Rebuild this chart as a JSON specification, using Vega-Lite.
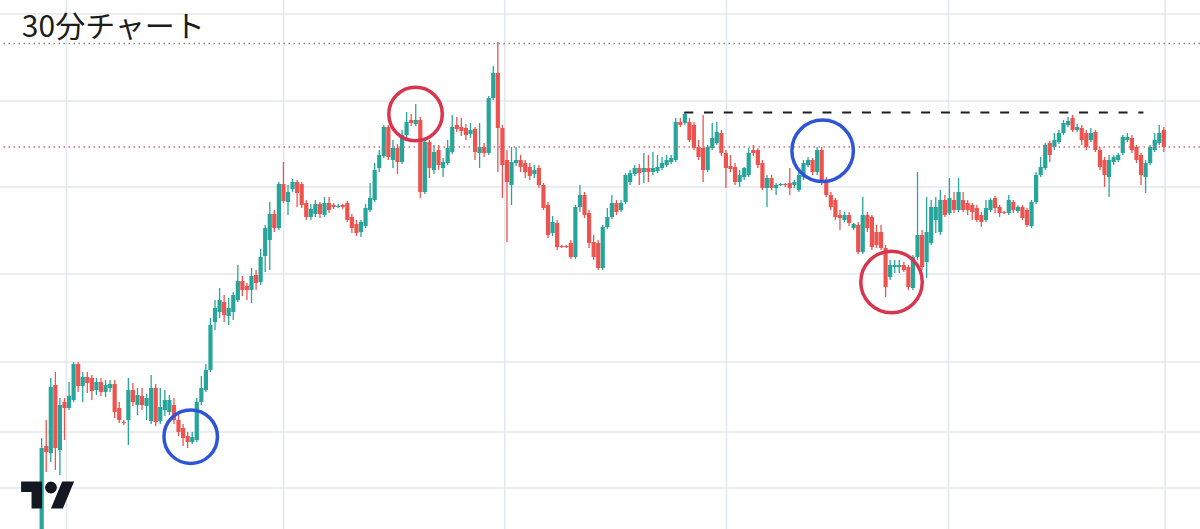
{
  "$schema": "https://vega.github.io/schema/vega-lite/v6.json",
  "width": 1200,
  "height": 529,
  "autosize": "none",
  "padding": 0,
  "background": "#ffffff",
  "config": {"view": {"stroke": null}},
  "datasets": {
    "candles": [
      {"t":0,"o":-16,"h":91,"l":-21,"c":81},{"t":1,"o":83,"h":109,"l":57,"c":77},{"t":2,"o":76,"h":151,"l":67,"c":142},{"t":3,"o":144,"h":157,"l":59,"c":81},{"t":4,"o":79,"h":131,"l":54,"c":124},{"t":5,"o":127,"h":131,"l":89,"c":121},{"t":6,"o":121,"h":147,"l":119,"c":133},{"t":7,"o":129,"h":167,"l":127,"c":165},{"t":8,"o":165,"h":167,"l":137,"c":143},{"t":9,"o":143,"h":157,"l":127,"c":152},
      {"t":10,"o":152,"h":157,"l":136,"c":146},{"t":11,"o":151,"h":154,"l":129,"c":138},{"t":12,"o":139,"h":151,"l":134,"c":147},{"t":13,"o":147,"h":151,"l":133,"c":137},{"t":14,"o":137,"h":149,"l":132,"c":144},{"t":15,"o":141,"h":149,"l":137,"c":145},{"t":16,"o":145,"h":149,"l":111,"c":117},{"t":17,"o":121,"h":127,"l":106,"c":109},{"t":18,"o":107,"h":109,"l":104,"c":106},{"t":19,"o":109,"h":151,"l":84,"c":139},
      {"t":20,"o":139,"h":146,"l":123,"c":127},{"t":21,"o":124,"h":141,"l":114,"c":134},{"t":22,"o":133,"h":141,"l":119,"c":124},{"t":23,"o":123,"h":135,"l":109,"c":131},{"t":24,"o":108,"h":154,"l":105,"c":141},{"t":25,"o":141,"h":145,"l":103,"c":107},{"t":26,"o":108,"h":141,"l":105,"c":122},{"t":27,"o":119,"h":139,"l":113,"c":129},{"t":28,"o":117,"h":134,"l":114,"c":129},{"t":29,"o":124,"h":131,"l":105,"c":109},
      {"t":30,"o":109,"h":114,"l":93,"c":97},{"t":31,"o":101,"h":105,"l":83,"c":91},{"t":32,"o":93,"h":97,"l":81,"c":87},{"t":33,"o":87,"h":97,"l":85,"c":92},{"t":34,"o":89,"h":131,"l":87,"c":127},{"t":35,"o":127,"h":153,"l":124,"c":141},{"t":36,"o":139,"h":165,"l":137,"c":159},{"t":37,"o":159,"h":211,"l":157,"c":204},{"t":38,"o":207,"h":229,"l":199,"c":221},{"t":39,"o":217,"h":241,"l":211,"c":229},
      {"t":40,"o":227,"h":234,"l":207,"c":214},{"t":41,"o":213,"h":231,"l":204,"c":221},{"t":42,"o":217,"h":237,"l":209,"c":234},{"t":43,"o":229,"h":264,"l":227,"c":248},{"t":44,"o":248,"h":253,"l":233,"c":239},{"t":45,"o":243,"h":246,"l":229,"c":239},{"t":46,"o":239,"h":261,"l":226,"c":253},{"t":47,"o":254,"h":259,"l":239,"c":246},{"t":48,"o":247,"h":280,"l":244,"c":272},{"t":49,"o":273,"h":304,"l":257,"c":301},
      {"t":50,"o":289,"h":327,"l":259,"c":315},{"t":51,"o":315,"h":319,"l":297,"c":301},{"t":52,"o":301,"h":347,"l":299,"c":345},{"t":53,"o":345,"h":367,"l":326,"c":328},{"t":54,"o":327,"h":344,"l":314,"c":337},{"t":55,"o":340,"h":350,"l":337,"c":347},{"t":56,"o":347,"h":349,"l":322,"c":336},{"t":57,"o":345,"h":347,"l":321,"c":324},{"t":58,"o":326,"h":329,"l":309,"c":312},{"t":59,"o":312,"h":325,"l":309,"c":320},
      {"t":60,"o":315,"h":329,"l":312,"c":325},{"t":61,"o":325,"h":327,"l":311,"c":315},{"t":62,"o":314,"h":332,"l":312,"c":326},{"t":63,"o":326,"h":332,"l":316,"c":319},{"t":64,"o":324,"h":326,"l":320,"c":322},{"t":65,"o":322,"h":325,"l":321,"c":323},{"t":66,"o":324,"h":325,"l":320,"c":322},{"t":67,"o":326,"h":328,"l":307,"c":309},{"t":68,"o":312,"h":315,"l":296,"c":301},{"t":69,"o":305,"h":309,"l":293,"c":296},
      {"t":70,"o":297,"h":309,"l":292,"c":307},{"t":71,"o":303,"h":325,"l":301,"c":321},{"t":72,"o":319,"h":346,"l":317,"c":331},{"t":73,"o":329,"h":366,"l":327,"c":359},{"t":74,"o":361,"h":379,"l":357,"c":374},{"t":75,"o":373,"h":404,"l":371,"c":402},{"t":76,"o":402,"h":404,"l":369,"c":372},{"t":77,"o":369,"h":389,"l":361,"c":381},{"t":78,"o":381,"h":385,"l":355,"c":367},{"t":79,"o":367,"h":399,"l":365,"c":394},
      {"t":80,"o":394,"h":417,"l":391,"c":407},{"t":81,"o":409,"h":415,"l":403,"c":406},{"t":82,"o":405,"h":425,"l":403,"c":409},{"t":83,"o":409,"h":412,"l":331,"c":337},{"t":84,"o":337,"h":391,"l":335,"c":387},{"t":85,"o":387,"h":389,"l":351,"c":361},{"t":86,"o":359,"h":384,"l":355,"c":377},{"t":87,"o":379,"h":384,"l":359,"c":364},{"t":88,"o":361,"h":371,"l":352,"c":367},{"t":89,"o":366,"h":389,"l":364,"c":381},
      {"t":90,"o":377,"h":414,"l":375,"c":402},{"t":91,"o":404,"h":412,"l":397,"c":400},{"t":92,"o":402,"h":411,"l":393,"c":398},{"t":93,"o":401,"h":405,"l":389,"c":394},{"t":94,"o":395,"h":406,"l":391,"c":399},{"t":95,"o":400,"h":402,"l":369,"c":377},{"t":96,"o":376,"h":406,"l":361,"c":382},{"t":97,"o":382,"h":386,"l":372,"c":376},{"t":98,"o":376,"h":433,"l":374,"c":431},{"t":99,"o":431,"h":463,"l":429,"c":456},
      {"t":100,"o":456,"h":487,"l":357,"c":401},{"t":101,"o":401,"h":404,"l":331,"c":364},{"t":102,"o":369,"h":379,"l":287,"c":347},{"t":103,"o":344,"h":382,"l":324,"c":367},{"t":104,"o":366,"h":382,"l":363,"c":369},{"t":105,"o":369,"h":374,"l":357,"c":362},{"t":106,"o":366,"h":369,"l":351,"c":357},{"t":107,"o":362,"h":366,"l":349,"c":353},{"t":108,"o":355,"h":364,"l":351,"c":359},{"t":109,"o":361,"h":364,"l":341,"c":344},
      {"t":110,"o":344,"h":346,"l":319,"c":321},{"t":111,"o":324,"h":327,"l":291,"c":294},{"t":112,"o":296,"h":313,"l":293,"c":307},{"t":113,"o":306,"h":309,"l":279,"c":282},{"t":114,"o":283,"h":284,"l":281,"c":282},{"t":115,"o":283,"h":284,"l":281,"c":282},{"t":116,"o":286,"h":289,"l":270,"c":272},{"t":117,"o":272,"h":324,"l":270,"c":322},{"t":118,"o":322,"h":344,"l":317,"c":334},{"t":119,"o":334,"h":337,"l":311,"c":314},
      {"t":120,"o":316,"h":319,"l":281,"c":286},{"t":121,"o":287,"h":294,"l":269,"c":272},{"t":122,"o":286,"h":289,"l":259,"c":261},{"t":123,"o":261,"h":304,"l":259,"c":302},{"t":124,"o":302,"h":321,"l":300,"c":312},{"t":125,"o":312,"h":334,"l":310,"c":326},{"t":126,"o":326,"h":329,"l":314,"c":317},{"t":127,"o":319,"h":329,"l":317,"c":326},{"t":128,"o":327,"h":356,"l":325,"c":354},{"t":129,"o":347,"h":359,"l":344,"c":356},
      {"t":130,"o":355,"h":364,"l":353,"c":361},{"t":131,"o":361,"h":365,"l":344,"c":356},{"t":132,"o":357,"h":376,"l":346,"c":361},{"t":133,"o":361,"h":374,"l":347,"c":357},{"t":134,"o":357,"h":377,"l":354,"c":361},{"t":135,"o":358,"h":374,"l":356,"c":362},{"t":136,"o":361,"h":372,"l":359,"c":366},{"t":137,"o":364,"h":374,"l":362,"c":369},{"t":138,"o":367,"h":374,"l":365,"c":371},{"t":139,"o":369,"h":411,"l":367,"c":407},
      {"t":140,"o":407,"h":411,"l":402,"c":404},{"t":141,"o":406,"h":417,"l":404,"c":415},{"t":142,"o":407,"h":411,"l":387,"c":389},{"t":143,"o":404,"h":407,"l":379,"c":381},{"t":144,"o":382,"h":389,"l":369,"c":372},{"t":145,"o":381,"h":414,"l":347,"c":359},{"t":146,"o":359,"h":384,"l":357,"c":382},{"t":147,"o":381,"h":406,"l":379,"c":391},{"t":148,"o":386,"h":407,"l":384,"c":397},{"t":149,"o":396,"h":399,"l":373,"c":376},
      {"t":150,"o":376,"h":379,"l":341,"c":361},{"t":151,"o":363,"h":374,"l":357,"c":360},{"t":152,"o":362,"h":366,"l":344,"c":347},{"t":153,"o":347,"h":359,"l":342,"c":354},{"t":154,"o":352,"h":362,"l":349,"c":361},{"t":155,"o":354,"h":381,"l":352,"c":376},{"t":156,"o":379,"h":384,"l":373,"c":376},{"t":157,"o":379,"h":381,"l":361,"c":364},{"t":158,"o":366,"h":369,"l":339,"c":341},{"t":159,"o":341,"h":354,"l":322,"c":351},
      {"t":160,"o":351,"h":354,"l":339,"c":341},{"t":161,"o":341,"h":346,"l":334,"c":344},{"t":162,"o":344,"h":346,"l":343,"c":345},{"t":163,"o":345,"h":346,"l":342,"c":344},{"t":164,"o":346,"h":361,"l":334,"c":341},{"t":165,"o":344,"h":349,"l":341,"c":347},{"t":166,"o":339,"h":357,"l":337,"c":354},{"t":167,"o":352,"h":369,"l":349,"c":366},{"t":168,"o":364,"h":372,"l":362,"c":369},{"t":169,"o":369,"h":371,"l":354,"c":357},
      {"t":170,"o":357,"h":382,"l":354,"c":379},{"t":171,"o":379,"h":382,"l":344,"c":349},{"t":172,"o":349,"h":352,"l":332,"c":334},{"t":173,"o":334,"h":337,"l":319,"c":322},{"t":174,"o":329,"h":331,"l":309,"c":312},{"t":175,"o":314,"h":319,"l":299,"c":311},{"t":176,"o":309,"h":317,"l":307,"c":314},{"t":177,"o":314,"h":317,"l":303,"c":306},{"t":178,"o":301,"h":306,"l":299,"c":305},{"t":179,"o":304,"h":307,"l":275,"c":277},
      {"t":180,"o":277,"h":332,"l":275,"c":314},{"t":181,"o":314,"h":317,"l":297,"c":301},{"t":182,"o":312,"h":314,"l":279,"c":282},{"t":183,"o":297,"h":304,"l":281,"c":284},{"t":184,"o":297,"h":304,"l":279,"c":281},{"t":185,"o":281,"h":284,"l":232,"c":242},{"t":186,"o":252,"h":269,"l":249,"c":264},{"t":187,"o":262,"h":269,"l":256,"c":264},{"t":188,"o":262,"h":269,"l":256,"c":264},{"t":189,"o":264,"h":267,"l":257,"c":259},
      {"t":190,"o":262,"h":264,"l":239,"c":242},{"t":191,"o":241,"h":274,"l":239,"c":272},{"t":192,"o":272,"h":357,"l":269,"c":294},{"t":193,"o":294,"h":299,"l":259,"c":262},{"t":194,"o":267,"h":332,"l":251,"c":297},{"t":195,"o":286,"h":329,"l":284,"c":322},{"t":196,"o":309,"h":332,"l":296,"c":322},{"t":197,"o":297,"h":339,"l":294,"c":329},{"t":198,"o":329,"h":334,"l":312,"c":314},{"t":199,"o":316,"h":351,"l":314,"c":331},
      {"t":200,"o":329,"h":337,"l":316,"c":319},{"t":201,"o":319,"h":351,"l":317,"c":337},{"t":202,"o":329,"h":337,"l":317,"c":319},{"t":203,"o":326,"h":329,"l":314,"c":319},{"t":204,"o":324,"h":326,"l":309,"c":317},{"t":205,"o":321,"h":324,"l":307,"c":309},{"t":206,"o":314,"h":317,"l":302,"c":307},{"t":207,"o":309,"h":329,"l":307,"c":321},{"t":208,"o":319,"h":331,"l":317,"c":329},{"t":209,"o":331,"h":333,"l":316,"c":321},
      {"t":210,"o":322,"h":324,"l":312,"c":316},{"t":211,"o":317,"h":318,"l":315,"c":316},{"t":212,"o":316,"h":334,"l":314,"c":329},{"t":213,"o":327,"h":329,"l":316,"c":319},{"t":214,"o":318,"h":324,"l":316,"c":322},{"t":215,"o":322,"h":324,"l":309,"c":311},{"t":216,"o":319,"h":321,"l":302,"c":304},{"t":217,"o":303,"h":329,"l":301,"c":327},{"t":218,"o":327,"h":357,"l":325,"c":354},{"t":219,"o":354,"h":372,"l":352,"c":362},
      {"t":220,"o":361,"h":386,"l":359,"c":384},{"t":221,"o":386,"h":388,"l":367,"c":374},{"t":222,"o":382,"h":396,"l":379,"c":389},{"t":223,"o":387,"h":399,"l":385,"c":396},{"t":224,"o":396,"h":409,"l":394,"c":406},{"t":225,"o":404,"h":412,"l":402,"c":408},{"t":226,"o":411,"h":414,"l":397,"c":399},{"t":227,"o":399,"h":405,"l":397,"c":402},{"t":228,"o":401,"h":404,"l":384,"c":389},{"t":229,"o":396,"h":399,"l":379,"c":382},
      {"t":230,"o":389,"h":401,"l":387,"c":396},{"t":231,"o":397,"h":399,"l":377,"c":379},{"t":232,"o":379,"h":382,"l":359,"c":362},{"t":233,"o":369,"h":372,"l":342,"c":354},{"t":234,"o":352,"h":374,"l":332,"c":369},{"t":235,"o":367,"h":374,"l":364,"c":372},{"t":236,"o":369,"h":376,"l":367,"c":374},{"t":237,"o":376,"h":394,"l":374,"c":392},{"t":238,"o":389,"h":396,"l":387,"c":392},{"t":239,"o":391,"h":394,"l":376,"c":379},
      {"t":240,"o":382,"h":384,"l":366,"c":369},{"t":241,"o":374,"h":376,"l":344,"c":354},{"t":242,"o":352,"h":369,"l":336,"c":366},{"t":243,"o":366,"h":384,"l":364,"c":382},{"t":244,"o":379,"h":396,"l":377,"c":389},{"t":245,"o":386,"h":404,"l":384,"c":396},{"t":246,"o":399,"h":402,"l":377,"c":382}
    ],
    "marks": [
      {"t":32.67,"v":92.3,"kind":"blue","group":"first"},
      {"t":81.96,"v":415,"kind":"red","group":"first"},
      {"t":171.2,"v":378.2,"kind":"blue","group":"second"},
      {"t":186.3,"v":247,"kind":"red","group":"second"}
    ],
    "gridX": [{"g":5.435},{"g":53.04},{"g":101.52},{"g":150.11},{"g":198.8},{"g":246.3}],
    "gridY": [{"g":515},{"g":428},{"g":342},{"g":255},{"g":167},{"g":97},{"g":41}]
  },
  "layer": [
    {
      "data": {"name": "gridX"},
      "mark": {"type": "rule", "color": "#e3e7ee", "strokeWidth": 1.6},
      "encoding": {
        "x": {"field": "g", "type": "quantitative", "scale": {"domain": [-8.04, 252.83], "nice": false, "zero": false}, "axis": null}
      }
    },
    {
      "data": {"name": "gridY"},
      "mark": {"type": "rule", "color": "#e3e7ee", "strokeWidth": 1.6},
      "encoding": {
        "y": {"field": "g", "type": "quantitative", "scale": {"domain": [0, 529], "nice": false, "zero": false}, "axis": null}
      }
    },
    {
      "data": {"name": "candles"},
      "mark": {"type": "rule", "strokeWidth": 1.3},
      "encoding": {
        "x": {"field": "t", "type": "quantitative", "scale": {"domain": [-8.04, 252.83], "nice": false, "zero": false}, "axis": null},
        "y": {"field": "l", "type": "quantitative", "scale": {"domain": [0, 529], "nice": false, "zero": false}, "axis": null},
        "y2": {"field": "h"},
        "color": {"condition": {"test": "datum.c >= datum.o", "value": "#26a69a"}, "value": "#ef5350"}
      }
    },
    {
      "data": {"name": "candles"},
      "mark": {"type": "bar", "width": 4.2},
      "encoding": {
        "x": {"field": "t", "type": "quantitative", "scale": {"domain": [-8.04, 252.83], "nice": false, "zero": false}, "axis": null},
        "y": {"field": "o", "type": "quantitative", "scale": {"domain": [0, 529], "nice": false, "zero": false}, "axis": null},
        "y2": {"field": "c"},
        "color": {"condition": {"test": "datum.c >= datum.o", "value": "#26a69a"}, "value": "#ef5350"}
      }
    },
    {
      "data": {"values": [{}]},
      "mark": {"type": "rule", "color": "#8a8a8a", "strokeWidth": 1.5, "strokeDash": [1.5, 3.5]},
      "encoding": {"y": {"datum": 485.5, "type": "quantitative", "scale": {"domain": [0, 529], "nice": false, "zero": false}, "axis": null}}
    },
    {
      "data": {"values": [{}]},
      "mark": {"type": "rule", "color": "#d9686c", "strokeWidth": 1.5, "strokeDash": [1.5, 3.5]},
      "encoding": {"y": {"datum": 382, "type": "quantitative", "scale": {"domain": [0, 529], "nice": false, "zero": false}, "axis": null}}
    },
    {
      "data": {"values": [{}]},
      "mark": {"type": "rule", "color": "#1e1e1e", "strokeWidth": 2.2, "strokeDash": [9, 10.74]},
      "encoding": {
        "x": {"datum": 140.87, "type": "quantitative", "scale": {"domain": [-8.04, 252.83], "nice": false, "zero": false}, "axis": null},
        "x2": {"datum": 241.52},
        "y": {"datum": 416.5, "type": "quantitative", "scale": {"domain": [0, 529], "nice": false, "zero": false}, "axis": null}
      }
    },
    {
      "data": {"name": "marks"},
      "transform": [{"filter": "datum.group === 'first'"}],
      "mark": {"type": "point", "shape": "circle", "filled": false, "strokeWidth": 3.5, "size": 2862, "opacity": 1},
      "encoding": {
        "x": {"field": "t", "type": "quantitative", "scale": {"domain": [-8.04, 252.83], "nice": false, "zero": false}, "axis": null},
        "y": {"field": "v", "type": "quantitative", "scale": {"domain": [0, 529], "nice": false, "zero": false}, "axis": null},
        "color": {"field": "kind", "type": "nominal", "scale": {"domain": ["blue", "red"], "range": ["#2e55d6", "#d8354e"]}, "legend": null}
      }
    },
    {
      "data": {"name": "marks"},
      "transform": [{"filter": "datum.group === 'second'"}],
      "mark": {"type": "point", "shape": "circle", "filled": false, "strokeWidth": 3.5, "size": 3782, "opacity": 1},
      "encoding": {
        "x": {"field": "t", "type": "quantitative", "scale": {"domain": [-8.04, 252.83], "nice": false, "zero": false}, "axis": null},
        "y": {"field": "v", "type": "quantitative", "scale": {"domain": [0, 529], "nice": false, "zero": false}, "axis": null},
        "color": {"field": "kind", "type": "nominal", "scale": {"domain": ["blue", "red"], "range": ["#2e55d6", "#d8354e"]}, "legend": null}
      }
    },
    {
      "data": {"values": [{}]},
      "mark": {"type": "text", "text": "30分チャート", "font": "Noto Sans CJK JP", "fontSize": 30, "align": "left", "baseline": "alphabetic", "color": "#1c1c1c"},
      "encoding": {
        "x": {"datum": -4.35, "type": "quantitative", "scale": {"domain": [-8.04, 252.83], "nice": false, "zero": false}, "axis": null},
        "y": {"datum": 492, "type": "quantitative", "scale": {"domain": [0, 529], "nice": false, "zero": false}, "axis": null}
      }
    },
    {
      "data": {"values": [{}]},
      "mark": {"type": "point", "filled": true, "fill": "#131722", "strokeWidth": 0, "opacity": 1, "size": 2809,
               "shape": "M-1,-0.507L-0.211,-0.507L-0.211,0.507L-0.606,0.507L-0.606,-0.113L-1,-0.113ZM0.352,-0.282L0.322,-0.17L0.24,-0.087L0.127,-0.057L0.014,-0.087L-0.068,-0.17L-0.098,-0.282L-0.068,-0.395L0.014,-0.477L0.127,-0.507L0.24,-0.477L0.322,-0.395ZM0.127,0.507L0.549,-0.507L1,-0.507L0.577,0.507Z"},
      "encoding": {
        "x": {"datum": 1.3, "type": "quantitative", "scale": {"domain": [-8.04, 252.83], "nice": false, "zero": false}, "axis": null},
        "y": {"datum": 34, "type": "quantitative", "scale": {"domain": [0, 529], "nice": false, "zero": false}, "axis": null}
      }
    }
  ]
}
